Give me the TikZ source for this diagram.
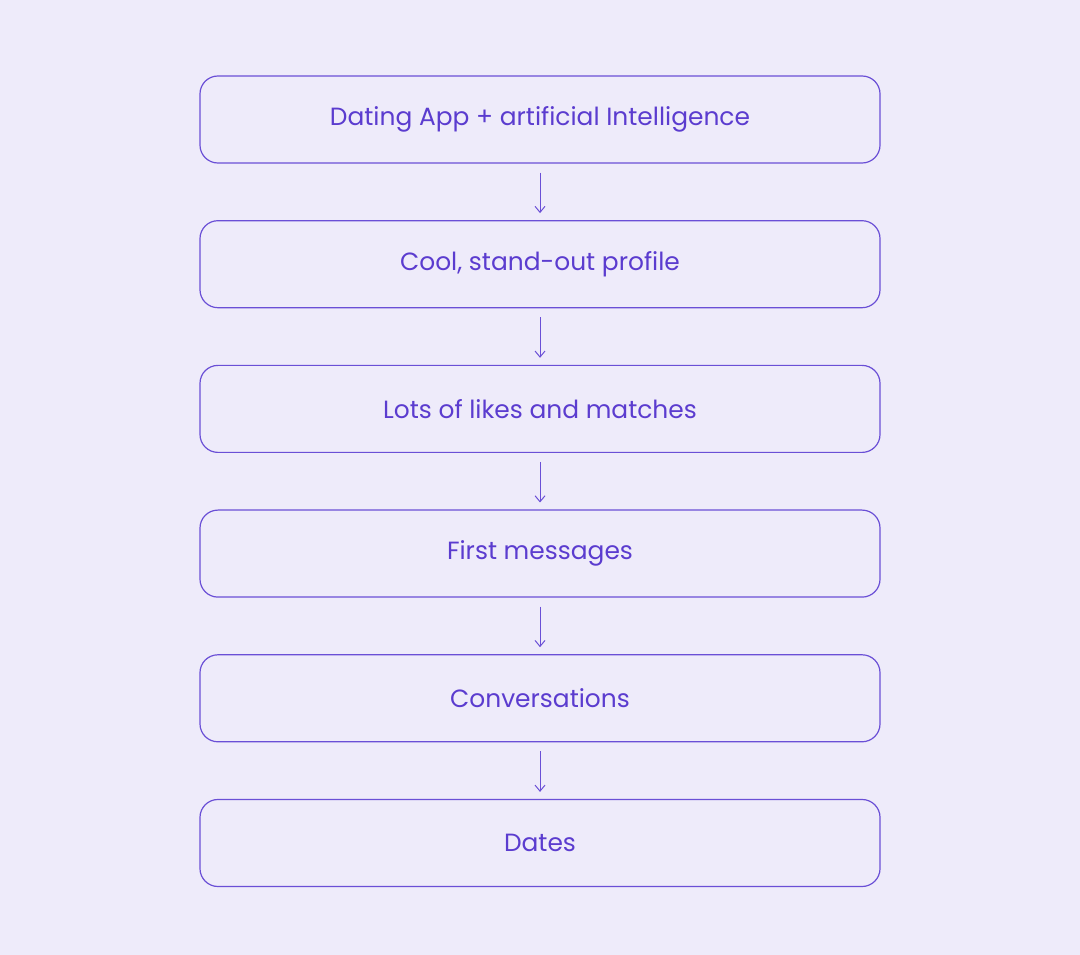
\documentclass[tikz,border=0pt]{standalone}
\usepackage{fontspec}
\setmainfont{Poppins}
\usetikzlibrary{positioning, arrows.meta}
\definecolor{bgLilac}{HTML}{EEEBFA}
\definecolor{stepInk}{HTML}{5B3CCF}
\definecolor{stepLine}{HTML}{6A4FD6}
\tikzset{
    flowStep/.style={rectangle, draw=stepLine, line width=0.6pt, rounded corners=9pt, align=center, minimum width=340bp, minimum height=43.5bp, text=stepInk, font=\fontsize{12.5}{15}\selectfont},
    arrow/.style={-{Straight Barb[length=3pt, width=5pt]}, draw=stepLine, line width=0.5pt, shorten <=4.5bp, shorten >=3.5bp}
}
\begin{document}
\begin{tikzpicture}[x=1bp, y=1bp]
    \fill[bgLilac] (0,0) rectangle (540,-477.5);
    \useasboundingbox (0,0) rectangle (540,-477.5);

    \node[flowStep] (app) at (270,-59.75) {Dating App + artificial Intelligence};
    \node[flowStep, below=28.25bp of app] (profile) {Cool, stand-out profile};
    \node[flowStep, below=28.25bp of profile] (likes) {Lots of likes and matches};
    \node[flowStep, below=28.25bp of likes] (first) {First messages};
    \node[flowStep, below=28.25bp of first] (talks) {Conversations};
    \node[flowStep, below=28.25bp of talks] (dates) {Dates};

    % flow arrows
    \foreach \a/\b in {app/profile, profile/likes, likes/first, first/talks, talks/dates}
        \draw[arrow] (\a) -- (\b);
\end{tikzpicture}
\end{document}
